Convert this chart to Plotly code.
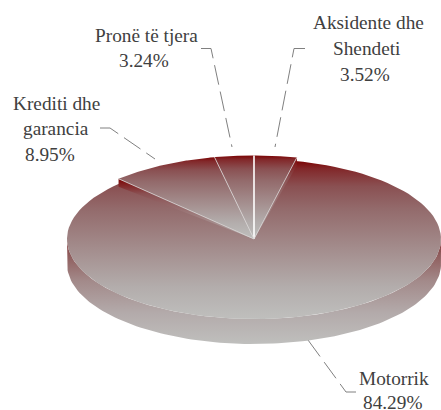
import math
import plotly.graph_objects as go

categories = ["Aksidente dhe Shendeti", "Motorrik", "Krediti dhe garancia", "Pronë të tjera"]
shares = [3.52, 84.29, 8.95, 3.24]
label_lines = [["Aksidente dhe", "Shendeti"], ["Motorrik"], ["Krediti dhe", "garancia"], ["Pronë të tjera"]]
label_x = [[368, 366, 365], [394, 392], [56, 56, 50], [146, 144]]
label_y = [[22.5, 48.5, 74.5], [378, 402], [103, 128, 154], [35.5, 60.5]]
leaders = [
    ([305, 294, 275], [48.5, 48.5, 147]),
    ([356, 346, 308], [392, 392, 340]),
    ([100, 110, 155], [128, 128, 159]),
    ([201, 211, 232], [48.5, 48.5, 147]),
]

CX, CY = 254, 239
RX, RY = 187, 80
DEPTH = 25
LIFT = 1.045  # the small slices stand slightly proud of the big one
TOP_SCALE = [[0, "#7c0404"], [0.05, "#82282a"], [0.16, "#8a5052"], [0.3, "#936a6b"],
             [0.55, "#a38c8c"], [0.8, "#b3adac"], [1, "#bfbfbd"]]
SIDE_SCALE = [[0, "#7c2c2e"], [0.15, "#8f5c5c"], [0.4, "#a38a8a"], [0.7, "#b3aaaa"], [1, "#bfbfbd"]]
FONT = dict(family="Liberation Serif", size=19.3, color="#404040")


def pt(deg, k=1.0, dy=0.0):
    a = math.radians(deg)
    return CX + RX * k * math.sin(a), CY - RY * k * math.cos(a) + dy


def arc(a0, a1, k=1.0, dy=0.0, n=120):
    return [pt(a0 + (a1 - a0) * i / n, k, dy) for i in range(n + 1)]


def poly(points, scale, name):
    xs = [p[0] for p in points] + [points[0][0]]
    ys = [p[1] for p in points] + [points[0][1]]
    return go.Scatter(
        x=xs, y=ys, mode="lines", line=dict(width=0), fill="toself", name=name,
        fillgradient=dict(type="vertical", colorscale=scale, start=min(ys), stop=max(ys)),
        hoverinfo="skip", showlegend=False,
    )


def edge(a, k, color, width):
    x, y = pt(a, k)
    return go.Scatter(x=[CX, x], y=[CY, y], mode="lines", line=dict(color=color, width=width),
                      hoverinfo="skip", showlegend=False)


edges = [0]
for s in shares:
    edges.append(edges[-1] + s * 3.6)
sweep = [(edges[i], edges[i + 1]) for i in range(len(shares))]

fig = go.Figure()
m0, m1 = sweep[1]
# rim of the big slice
rim = arc(90, 270) + arc(270, 90, dy=DEPTH)
fig.add_trace(poly(rim, SIDE_SCALE, "Motorrik rim"))
# top of the big slice
fig.add_trace(poly([(CX, CY)] + arc(m0, m1), TOP_SCALE, categories[1]))
# cut faces of the raised slices
for a in (sweep[0][1], sweep[2][0]):
    c = pt(a, LIFT)
    fig.add_trace(poly([(CX, CY), c, (c[0], c[1] + 8)], [[0, "#7c0404"], [0.25, "#8a5052"], [1, "#b3adac"]], "cut"))
# tops of the raised slices
for i in (0, 2, 3):
    a0, a1 = sweep[i]
    fig.add_trace(poly([(CX, CY)] + arc(a0, a1, LIFT), TOP_SCALE, categories[i]))
# separators
fig.add_trace(edge(0, LIFT, "#ffffff", 1.6))
fig.add_trace(edge(sweep[3][0], LIFT, "#d8d4d4", 0.8))
fig.add_trace(edge(sweep[0][1], LIFT, "#d8d4d4", 0.8))
fig.add_trace(edge(sweep[2][0], LIFT, "#d8d4d4", 0.8))

annotations = []
for i, s in enumerate(shares):
    lx, ly = leaders[i]
    fig.add_trace(go.Scatter(x=lx, y=ly, mode="lines", hoverinfo="skip", showlegend=False,
                             line=dict(color="#808080", width=1, dash="20px,7px")))
    texts = label_lines[i] + [f"{s:.2f}%"]
    for t, x, y in zip(texts, label_x[i], label_y[i]):
        annotations.append(dict(x=x, y=y, text=t, showarrow=False, xanchor="center",
                                yanchor="middle", font=FONT, xref="x", yref="y"))

fig.update_layout(
    width=441, height=410, margin=dict(l=0, r=0, t=0, b=0),
    paper_bgcolor="#ffffff", plot_bgcolor="#ffffff", showlegend=False,
    xaxis=dict(range=[0, 441], visible=False, fixedrange=True),
    yaxis=dict(range=[410, 0], visible=False, fixedrange=True),
    annotations=annotations,
)
fig.write_html("out.html", config={"displayModeBar": False},
               post_script="document.body.style.margin='0';document.documentElement.style.overflow='hidden';")
